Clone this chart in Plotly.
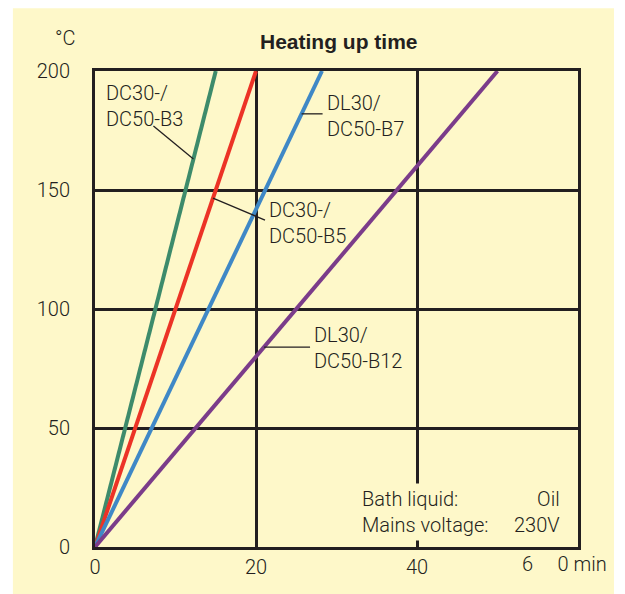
import numpy as np
import plotly.graph_objects as go

# ---- data ----
temps = [0, 200]                      # °C
time_b3 = [0, 15]                     # min, DC30-/DC50-B3
time_b5 = [0, 20]                     # min, DC30-/DC50-B5
time_b7 = [0, 28.2]                   # min, DL30/DC50-B7
time_b12 = [0, 50]                    # min, DL30/DC50-B12

NB = "\u00a0"
x_tickvals = [0, 20, 40, 60]
x_ticktext = ["0", "20", "40", ""]
x_last_label = "6" + NB * 5 + "0 min"
y_tickvals = [0, 50, 100, 150, 200]
y_ticktext = ["0", "50", "100", "150", "200"]

series = [
    ("DC30-/<br>DC50-B3", time_b3, "#3d8b6b"),
    ("DC30-/<br>DC50-B5", time_b5, "#ec3326"),
    ("DL30/<br>DC50-B7", time_b7, "#3f88c6"),
    ("DL30/<br>DC50-B12", time_b12, "#7b3c8a"),
]

BG = "#fef8c9"
INK = "#231f20"
FONT = "Roboto, Liberation Sans, Arial, sans-serif"
FW = 300

fig = go.Figure()
for name, t, col in series:
    fig.add_trace(go.Scatter(x=t, y=temps, mode="lines", name=name.replace("<br>", " "),
                             line=dict(color=col, width=4), showlegend=False, hoverinfo="skip"))

# outer yellow panel
fig.add_shape(type="rect", xref="paper", yref="paper", x0=-0.170, x1=1.0745, y0=-0.12, y1=1.132,
              fillcolor=BG, line=dict(width=0), layer="below")

# label texts (position) and leader lines (anchored on the series)
labels = [
    # text, series time, anchor temp, text x, text y, dx px, dy px
    ("DC30-/<br>DC50-B3", time_b3, 163, 1.1, 196.5, -40, 33),
    ("DC30-/<br>DC50-B5", time_b5, 146.6, 21.4, 147.5, 52, -22),
    ("DL30/<br>DC50-B7", time_b7, 182, 28.6, 192.5, 21, 0),
    ("DL30/<br>DC50-B12", time_b12, 84, 27.0, 95, 46, 0),
]
for txt, t, T, tx, ty, dx, dy in labels:
    fig.add_annotation(x=tx, y=ty, xref="x", yref="y", text=txt, showarrow=False,
                       xanchor="left", yanchor="top", align="left",
                       font=dict(family=FONT, size=20, color=INK, weight=FW))
    ax = float(np.interp(T, temps, t))
    fig.add_shape(type="line", xref="x", yref="y", xsizemode="pixel", ysizemode="pixel",
                  xanchor=ax, yanchor=T, x0=0, y0=0, x1=dx, y1=dy,
                  line=dict(color=INK, width=1.3), layer="above")

# info box
fig.add_annotation(x=32.7, y=2.5, xref="x", yref="y", text="Bath liquid:<br>Mains voltage:",
                   showarrow=False, xanchor="left", yanchor="bottom", align="left",
                   bgcolor=BG, borderpad=3,
                   font=dict(family=FONT, size=20, color=INK, weight=FW))
fig.add_annotation(x=58.3, y=2.5, xref="x", yref="y", text="Oil<br>230V",
                   showarrow=False, xanchor="right", yanchor="bottom", align="right",
                   borderpad=3, font=dict(family=FONT, size=20, color=INK, weight=FW))

# last x label with unit
fig.add_annotation(x=1.064, y=-0.036, xref="paper", yref="paper", text=x_last_label,
                   showarrow=False, xanchor="right", yanchor="middle",
                   font=dict(family=FONT, size=20, color=INK, weight=FW))

# title and unit
fig.add_annotation(x=0.505, y=1.061, xref="paper", yref="paper", text="<b>Heating up time</b>",
                   showarrow=False, xanchor="center", yanchor="middle",
                   font=dict(family="Liberation Sans, Arial, sans-serif", size=21, color=INK))
fig.add_annotation(x=-0.062, y=1.069, xref="paper", yref="paper", text="°C",
                   showarrow=False, xanchor="center", yanchor="middle",
                   font=dict(family=FONT, size=20, color=INK, weight=FW))

fig.update_xaxes(range=[0, 60], tickvals=x_tickvals, ticktext=x_ticktext, ticks="",
                 showgrid=True, gridcolor=INK, gridwidth=2.6, zeroline=False,
                 showline=True, mirror=True, linecolor=INK, linewidth=3,
                 ticklabelstandoff=0, automargin=False,
                 tickfont=dict(family=FONT, size=20, color=INK, weight=FW))
fig.update_yaxes(range=[0, 200], tickvals=y_tickvals, ticktext=y_ticktext, ticks="",
                 showgrid=True, gridcolor=INK, gridwidth=2.6, zeroline=False,
                 showline=True, mirror=True, linecolor=INK, linewidth=3,
                 ticklabelstandoff=18, automargin=False,
                 tickfont=dict(family=FONT, size=20, color=INK, weight=FW))

fig.update_layout(width=625, height=594, margin=dict(l=87, r=55, t=63, b=55, autoexpand=False),
                  paper_bgcolor="white", plot_bgcolor="rgba(0,0,0,0)", showlegend=False)

fig.write_html("out.html")
